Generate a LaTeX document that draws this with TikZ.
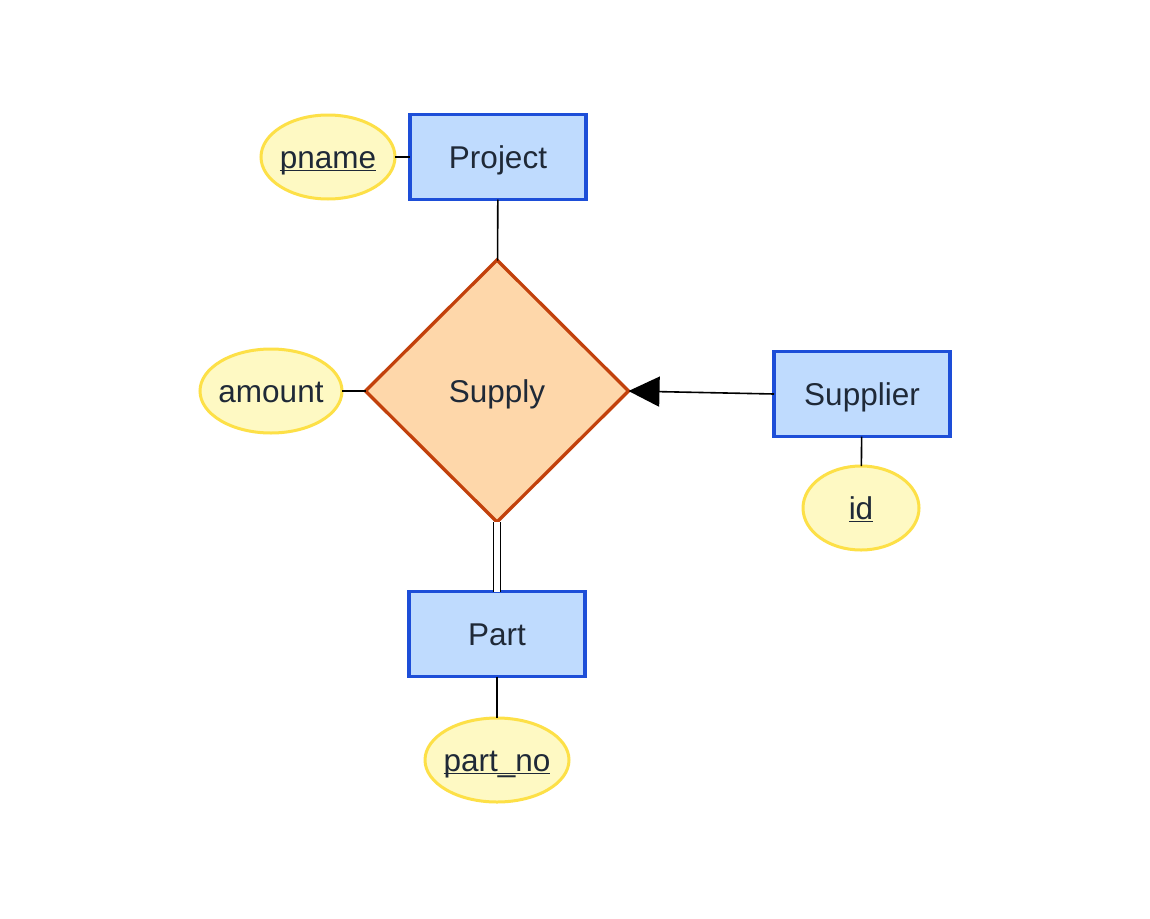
\documentclass[tikz,border=0pt]{standalone}
\usepackage{fontspec}
\setmainfont{Liberation Sans}
\usetikzlibrary{shapes.geometric,arrows.meta}
\definecolor{entfill}{HTML}{BFDBFE}
\definecolor{entline}{HTML}{1D4ED8}
\definecolor{attfill}{HTML}{FEF9C3}
\definecolor{attline}{HTML}{FDE047}
\definecolor{relfill}{HTML}{FED7AA}
\definecolor{relline}{HTML}{C2410C}
\definecolor{txt}{HTML}{1F2937}
\newcommand\keyul[1]{\setbox0\hbox{#1}\rlap{\rule[-3pt]{\wd0}{1.6pt}}\box0}
\newcommand\attxt[1]{\makebox[0pt]{#1}}
\tikzset{
  base/.style={outer sep=0pt, text=txt, font=\fontsize{31.5}{38}\selectfont, text height=22.5pt, text depth=0pt},
  entity/.style={base, draw=entline, fill=entfill, line width=3.5pt, minimum width=176, minimum height=85, inner sep=0pt},
  attr/.style={base, ellipse, draw=attline, fill=attfill, line width=3pt, inner sep=0pt},
  rel/.style={base, diamond, draw=relline, fill=relfill, line width=3.3pt, minimum width=263, minimum height=262, inner sep=0pt},
  conn/.style={line width=1.6pt, black},
}
\begin{document}
\begin{tikzpicture}[x=1pt,y=-1pt]
\useasboundingbox[fill=white] (0,0) rectangle (1150,918);
\node[entity] (project) at (498,157) {Project};
\node[attr, minimum width=134, minimum height=84] (pname) at (328,157) {\attxt{\keyul{pname}}};
\node[rel] (supply) at (497,391) {Supply};
\node[attr, minimum width=142, minimum height=84] (amount) at (271,391) {\attxt{amount}};
\node[entity] (supplier) at (862,394) {Supplier};
\node[attr, minimum width=116, minimum height=84] (id) at (861,508) {\attxt{\keyul{id}}};
\node[entity] (part) at (497,634) {Part};
\node[attr, minimum width=144, minimum height=84] (partno) at (497,760) {\attxt{\keyul{part\_no}}};
\draw[conn] (pname) -- (project);
\draw[conn] (project) -- (supply);
\draw[conn] (amount) -- (supply);
\draw[conn, -{Triangle[length=31pt,width=30pt]}] (supplier.west) -- (supply.east);
\draw[conn] (supplier) -- (id);
\draw[line width=1.6pt, double, double distance=5.6pt] (supply.south) -- (part.north);
\draw[conn] (part) -- (partno);
\end{tikzpicture}
\end{document}
